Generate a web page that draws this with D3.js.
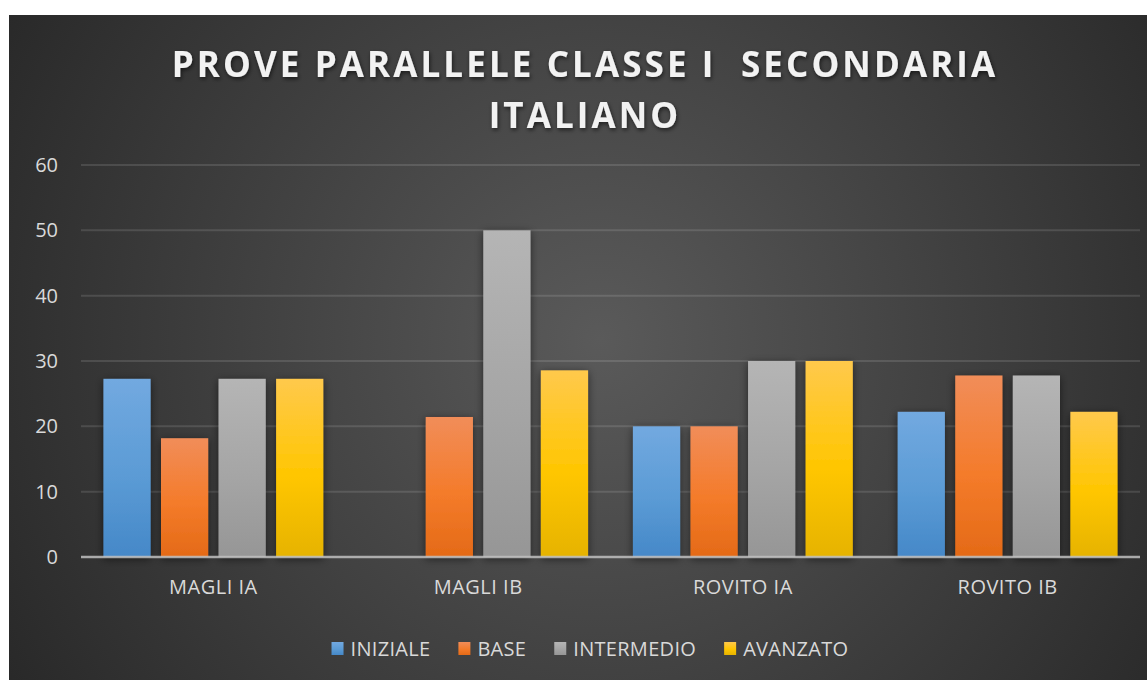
<!DOCTYPE html>
<html>
<head>
<meta charset="utf-8">
<script src="https://cdn.jsdelivr.net/npm/d3@7"></script>
<style>
  body { margin: 0; background: #fff; }
  svg { display: block; }
  text { font-family: "Open Sans", "DejaVu Sans", sans-serif; }
</style>
</head>
<body>
<div id="chart"></div>
<script>
const W = 1147, H = 680;

// data
const categories = ["MAGLI IA", "MAGLI IB", "ROVITO IA", "ROVITO IB"];
const series = ["INIZIALE", "BASE", "INTERMEDIO", "AVANZATO"];
const iniziale   = [27.27, 0, 20, 22.22];
const base       = [18.18, 21.43, 20, 27.78];
const intermedio = [27.27, 50, 30, 27.78];
const avanzato   = [27.27, 28.57, 30, 22.22];
const yTicks = [0, 10, 20, 30, 40, 50, 60];
const titleLines = ["PROVE PARALLELE CLASSE I  SECONDARIA", "ITALIANO"];

const values = [iniziale, base, intermedio, avanzato];
const data = categories.map((c, i) => ({
    cat: c,
    vals: series.map((s, j) => ({ key: s, value: values[j][i] }))
}));

// colori: [alto, medio, basso]
const palette = {
    "INIZIALE":   ["#72a9e0", "#5b9bd5", "#4588c8"],
    "BASE":       ["#f18d59", "#f47b2a", "#e46a17"],
    "INTERMEDIO": ["#b5b5b5", "#a5a5a5", "#969696"],
    "AVANZATO":   ["#ffc94c", "#ffc600", "#e6b300"]
};

const svg = d3.select("#chart").append("svg")
    .attr("width", W).attr("height", H);

const defs = svg.append("defs");

const bg = defs.append("radialGradient")
    .attr("id", "bg").attr("gradientUnits", "userSpaceOnUse")
    .attr("cx", 600).attr("cy", 340).attr("r", 720);
bg.append("stop").attr("offset", "0%").attr("stop-color", "#5a5a5a");
bg.append("stop").attr("offset", "100%").attr("stop-color", "#262626");

series.forEach((s, i) => {
    const g = defs.append("linearGradient")
        .attr("id", "grad" + i).attr("x1", 0).attr("y1", 0).attr("x2", 0).attr("y2", 1);
    g.append("stop").attr("offset", "0%").attr("stop-color", palette[s][0]);
    g.append("stop").attr("offset", "55%").attr("stop-color", palette[s][1]);
    g.append("stop").attr("offset", "100%").attr("stop-color", palette[s][2]);
});

const shadow = defs.append("filter").attr("id", "shadow")
    .attr("x", "-30%").attr("y", "-30%").attr("width", "160%").attr("height", "160%");
shadow.append("feDropShadow").attr("dx", 0).attr("dy", 2).attr("stdDeviation", 4)
    .attr("flood-color", "#000").attr("flood-opacity", 0.55);

const tshadow = defs.append("filter").attr("id", "tshadow")
    .attr("x", "-10%").attr("y", "-30%").attr("width", "120%").attr("height", "160%");
tshadow.append("feDropShadow").attr("dx", 1).attr("dy", 2).attr("stdDeviation", 2)
    .attr("flood-color", "#000").attr("flood-opacity", 0.6);

// sfondo
svg.append("rect")
    .attr("x", 9).attr("y", 15).attr("width", W - 9).attr("height", H - 15)
    .attr("fill", "url(#bg)");

// titolo
svg.append("g").attr("filter", "url(#tshadow)")
    .selectAll("text").data(titleLines).enter().append("text")
    .attr("x", 585).attr("y", (d, i) => 77 + i * 51)
    .attr("text-anchor", "middle")
    .attr("fill", "#f2f2f2")
    .style("font-size", "35px").style("font-weight", "bold")
    .style("letter-spacing", "3.1px")
    .style("white-space", "pre")
    .text(d => d);

const margin = { top: 165, right: 7, bottom: 123, left: 81 };
const width = W - margin.left - margin.right,
      height = H - margin.top - margin.bottom;

const g = svg.append("g").attr("transform", `translate(${margin.left},${margin.top})`);

const x0 = d3.scaleBand().domain(categories).range([0, width]).padding(0);
const x1 = d3.scaleBand().domain(series).range([0, x0.bandwidth()])
    .paddingInner(0.18).paddingOuter(0.39);
const y = d3.scaleLinear().domain([0, 60]).range([height, 0]);

// griglia
g.append("g")
    .selectAll("line").data(yTicks.filter(d => d > 0)).enter().append("line")
    .attr("x1", 0).attr("x2", width)
    .attr("y1", d => y(d)).attr("y2", d => y(d))
    .attr("stroke", "#ffffff").attr("stroke-opacity", 0.12).attr("stroke-width", 2);

// barre
g.append("g").selectAll("g").data(data).enter().append("g")
    .attr("transform", d => `translate(${x0(d.cat)},0)`)
    .selectAll("rect").data(d => d.vals.filter(v => v.value > 0)).enter().append("rect")
    .attr("x", d => x1(d.key))
    .attr("y", d => y(d.value))
    .attr("width", x1.bandwidth())
    .attr("height", d => height - y(d.value))
    .attr("fill", d => "url(#grad" + series.indexOf(d.key) + ")")
    .attr("filter", "url(#shadow)");

// asse x
g.append("line")
    .attr("x1", 0).attr("x2", width).attr("y1", height).attr("y2", height)
    .attr("stroke", "#bfbfbf").attr("stroke-opacity", 0.85).attr("stroke-width", 2.5);

g.append("g").selectAll("text").data(categories).enter().append("text")
    .attr("x", d => x0(d) + x0.bandwidth() / 2)
    .attr("y", height + 37)
    .attr("text-anchor", "middle")
    .attr("fill", "#d9d9d9")
    .style("font-size", "20px")
    .style("letter-spacing", "0.5px")
    .text(d => d);

// asse y
g.append("g").selectAll("text").data(yTicks).enter().append("text")
    .attr("x", -23)
    .attr("y", d => y(d) + 7)
    .attr("text-anchor", "end")
    .attr("fill", "#d9d9d9")
    .style("font-size", "20px")
    .text(d => d);

// legenda
const legend = svg.append("g");
let lx = 0;
series.forEach((s, i) => {
    const item = legend.append("g").attr("transform", `translate(${lx},0)`);
    item.append("rect")
        .attr("x", 0).attr("y", -14).attr("width", 12).attr("height", 13)
        .attr("fill", "url(#grad" + i + ")");
    const t = item.append("text")
        .attr("x", 19).attr("y", 0)
        .attr("fill", "#d9d9d9")
        .style("font-size", "20px")
        .style("letter-spacing", "0.3px")
        .text(s);
    lx += 19 + t.node().getComputedTextLength() + 28;
});
const legW = lx - 28;
legend.attr("transform", `translate(${590 - legW / 2},656)`);
</script>
</body>
</html>
